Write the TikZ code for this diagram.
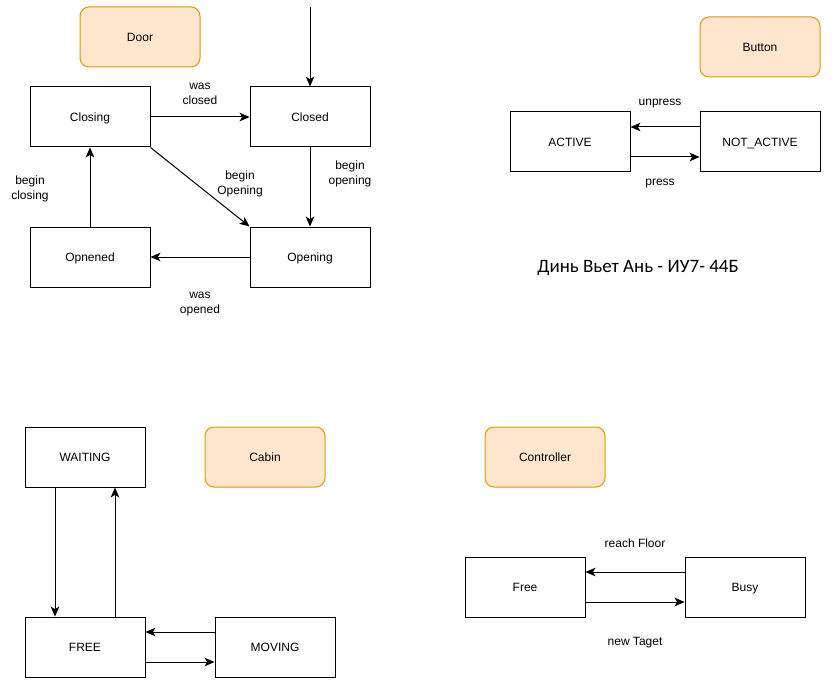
\documentclass[tikz,border=0pt]{standalone}
\usepackage{fontspec}
\setmainfont{Liberation Sans}
\newfontfamily\signfont{Carlito}
\usetikzlibrary{arrows.meta}
\definecolor{titlefill}{HTML}{FFE6CC}
\definecolor{titledraw}{HTML}{D79B00}
\tikzset{
	state/.style={draw, line width=0.75pt, minimum width=90pt, minimum height=45pt, text height=6.5pt, text depth=0pt, font=\fontsize{9}{11}\selectfont},
	title/.style={state, draw=titledraw, fill=titlefill, rounded corners=6.75pt},
	lbl/.style={font=\fontsize{9}{11}\selectfont, align=center, yshift=-1.5pt},
	trans/.style={line width=0.75pt, -{Stealth[length=7.5pt,width=6.5pt,inset=2pt]}}
}
\begin{document}
\begin{tikzpicture}[x=0.75pt, y=-0.75pt]
	\useasboundingbox (0,0) rectangle (837,695);
	% Door
	\node[title] (door) at (140,37) {Door};
	\node[state] (closing) at (90,117) {Closing};
	\node[state] (closed) at (310,117) {Closed};
	\node[state] (opned) at (90,257) {Opnened};
	\node[state] (opening) at (310,257) {Opening};
	\coordinate (start) at (310,7);
	\draw[trans] (start) -- (closed);
	\draw[trans] (closing) -- (closed);
	\draw[trans] (closed) -- (opening);
	\draw[trans] (closing.south east) -- (opening.north west);
	\draw[trans] (opening) -- (opned);
	\draw[trans] (opned) -- (closing);
	\node[lbl] at (200,92) {was\\closed};
	\node[lbl] at (240,182) {begin\\Opening};
	\node[lbl] at (350,172) {begin\\opening};
	\node[lbl] at (30,187) {begin\\closing};
	\node[lbl] at (200,302) {was\\opened};
	% Button
	\node[title] (button) at (760,47) {Button};
	\node[state] (active) at (570,142) {ACTIVE};
	\node[state] (notactive) at (760,142) {NOT\_ACTIVE};
	\draw[trans] ([yshift=11.25pt]notactive.west) -- ([yshift=11.25pt]active.east);
	\draw[trans] ([yshift=-11.25pt]active.east) -- ([yshift=-11.25pt]notactive.west);
	\node[lbl] at (660,102) {unpress};
	\node[lbl] at (660,182) {press};
	\node[font=\signfont\fontsize{14.2}{17}\selectfont] (sign) at (638,268) {Динь Вьет Ань - ИУ7- 44Б};
	% Cabin
	\node[title] (cabin) at (265,457) {Cabin};
	\node[state] (waiting) at (85,457) {WAITING};
	\node[state] (free) at (85,647) {FREE};
	\node[state] (moving) at (275,647) {MOVING};
	\draw[trans] ([xshift=-22.5pt]waiting.south) -- ([xshift=-22.5pt]free.north);
	\draw[trans] ([xshift=22.5pt]free.north) -- ([xshift=22.5pt]waiting.south);
	\draw[trans] ([yshift=11.25pt]moving.west) -- ([yshift=11.25pt]free.east);
	\draw[trans] ([yshift=-11.25pt]free.east) -- ([yshift=-11.25pt]moving.west);
	% Controller
	\node[title] (controller) at (545,457) {Controller};
	\node[state] (cfree) at (525,587) {Free};
	\node[state] (busy) at (745,587) {Busy};
	\draw[trans] ([yshift=11.25pt]busy.west) -- ([yshift=11.25pt]cfree.east);
	\draw[trans] ([yshift=-11.25pt]cfree.east) -- ([yshift=-11.25pt]busy.west);
	\node[lbl] at (635,541) {reach Floor};
	\node[lbl] at (635,641) {new Taget};
\end{tikzpicture}
\end{document}
